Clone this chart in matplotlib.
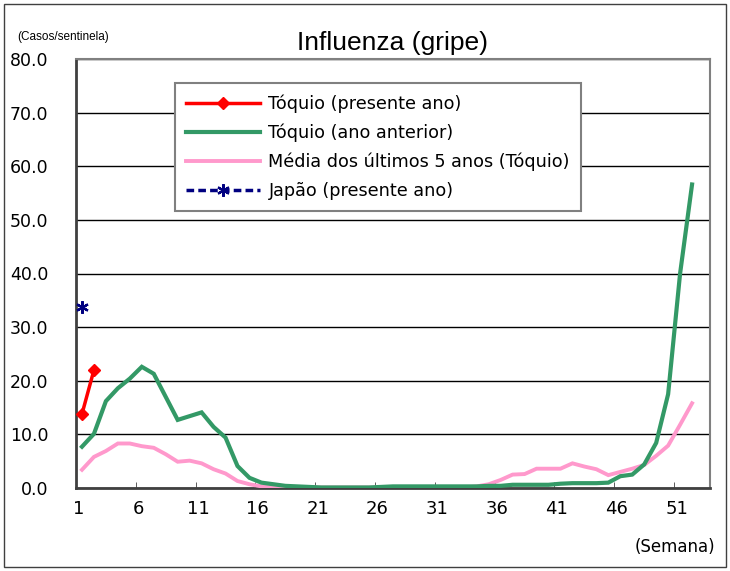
# Influenza (gripe) - casos por sentinela, Tóquio
import numpy as np
import matplotlib
matplotlib.use('Agg')
import matplotlib.pyplot as plt
from matplotlib.patches import Rectangle

# Data
weeks = np.arange(1, 53)
tokyo_now = [13.8, 22.0]                      # weeks 1-2
tokyo_prev = [7.7, 10.1, 16.2, 18.6, 20.4, 22.6, 21.3, 17.0, 12.7, 13.4,
              14.1, 11.4, 9.4, 4.1, 1.9, 1.0, 0.7, 0.4, 0.3, 0.2,
              0.1, 0.1, 0.1, 0.1, 0.1, 0.2, 0.3, 0.3, 0.3, 0.3,
              0.3, 0.3, 0.3, 0.3, 0.4, 0.4, 0.6, 0.6, 0.6, 0.6,
              0.8, 0.9, 0.9, 0.9, 1.0, 2.2, 2.5, 4.4, 8.4, 17.5,
              40.0, 56.6]
tokyo_avg5 = [3.4, 5.8, 6.9, 8.3, 8.3, 7.8, 7.5, 6.3, 4.9, 5.1,
              4.6, 3.5, 2.7, 1.3, 0.7, 0.3, 0.2, 0.1, 0.1, 0.1,
              0.1, 0.1, 0.1, 0.1, 0.1, 0.1, 0.1, 0.1, 0.1, 0.1,
              0.1, 0.1, 0.1, 0.3, 0.7, 1.5, 2.5, 2.6, 3.6, 3.6,
              3.6, 4.6, 4.0, 3.5, 2.4, 3.0, 3.6, 4.3, 6.0, 7.9,
              11.8, 15.8]
japan_now = [33.8]                            # week 1

xtick_labels = ['1', '6', '11', '16', '21', '26', '31', '36', '41', '46', '51']
yticks = np.arange(0, 81, 10)

fig = plt.figure(figsize=(7.3, 5.71), dpi=100)
ax = fig.add_axes([76 / 730, 83 / 571, 634 / 730, 429 / 571])

ax.plot(weeks, tokyo_avg5, color='#FF99CC', lw=2.8, solid_joinstyle='miter',
        label='Média dos últimos 5 anos (Tóquio)', zorder=3)
ax.plot(weeks, tokyo_prev, color='#339966', lw=3.0, solid_joinstyle='miter',
        label='Tóquio (ano anterior)', zorder=4)
ax.plot(weeks[:len(tokyo_now)], tokyo_now, color='#FF0000', lw=2.5,
        marker='D', ms=6.5, label='Tóquio (presente ano)', zorder=5)
ax.plot(weeks[:len(japan_now)], japan_now, color='#000080', lw=2.5,
        ls=(0, (2.2, 1.2)), marker=(6, 2, 0), ms=9, mew=1.6,
        label='Japão (presente ano)', zorder=5)

ax.set_xlim(0.5, 53.5)
ax.set_ylim(0, 80)
ax.set_yticks(yticks)
ax.set_yticklabels(['%.1f' % v for v in yticks], fontsize=12.5)
ax.tick_params(axis='y', length=0, pad=20)
ax.yaxis.grid(True, color='black', lw=1)
ax.set_axisbelow(True)

# tick marks at category boundaries, labels next to them
ax.set_xticks(np.arange(0.5, 53, 5) + 0.2)
ax.set_xticklabels(xtick_labels, fontsize=13)
ax.set_xticks(np.arange(0.5, 53, 5)[1:], minor=True)
ax.tick_params(axis='x', which='major', length=0, pad=9)
ax.tick_params(axis='x', which='minor', direction='in', length=4, color='#404040')

for side in ['left', 'bottom']:
    ax.spines[side].set_color('#404040')
    ax.spines[side].set_linewidth(2)
for side in ['top', 'right']:
    ax.spines[side].set_color('#808080')
    ax.spines[side].set_linewidth(1.5)

handles, labels = ax.get_legend_handles_labels()
order = [2, 1, 0, 3]
leg = ax.legend([handles[i] for i in order], [labels[i] for i in order],
                loc='upper left', bbox_to_anchor=(0.156, 0.944), borderaxespad=0,
                fontsize=12.7, handlelength=4.2, handletextpad=0.45,
                labelspacing=0.6, borderpad=0.65, fancybox=False,
                edgecolor='#808080', framealpha=1, shadow=False)
leg.get_frame().set_linewidth(1.5)

fig.text(393 / 730, 1 - 43 / 571, 'Influenza (gripe)', ha='center', va='center',
         fontsize=19, family='Liberation Sans')
fig.text(63 / 730, 1 - 37 / 571, '(Casos/sentinela)', ha='center', va='center',
         fontsize=8.5, family='Liberation Sans')
fig.text(675 / 730, 1 - 547 / 571, '(Semana)', ha='center', va='center', fontsize=12)

fig.patches.append(Rectangle((4 / 730, 4 / 571), 722 / 730, 563 / 571,
                             transform=fig.transFigure, fill=False,
                             edgecolor='#404040', lw=1))

fig.savefig('out.png', dpi=100)
